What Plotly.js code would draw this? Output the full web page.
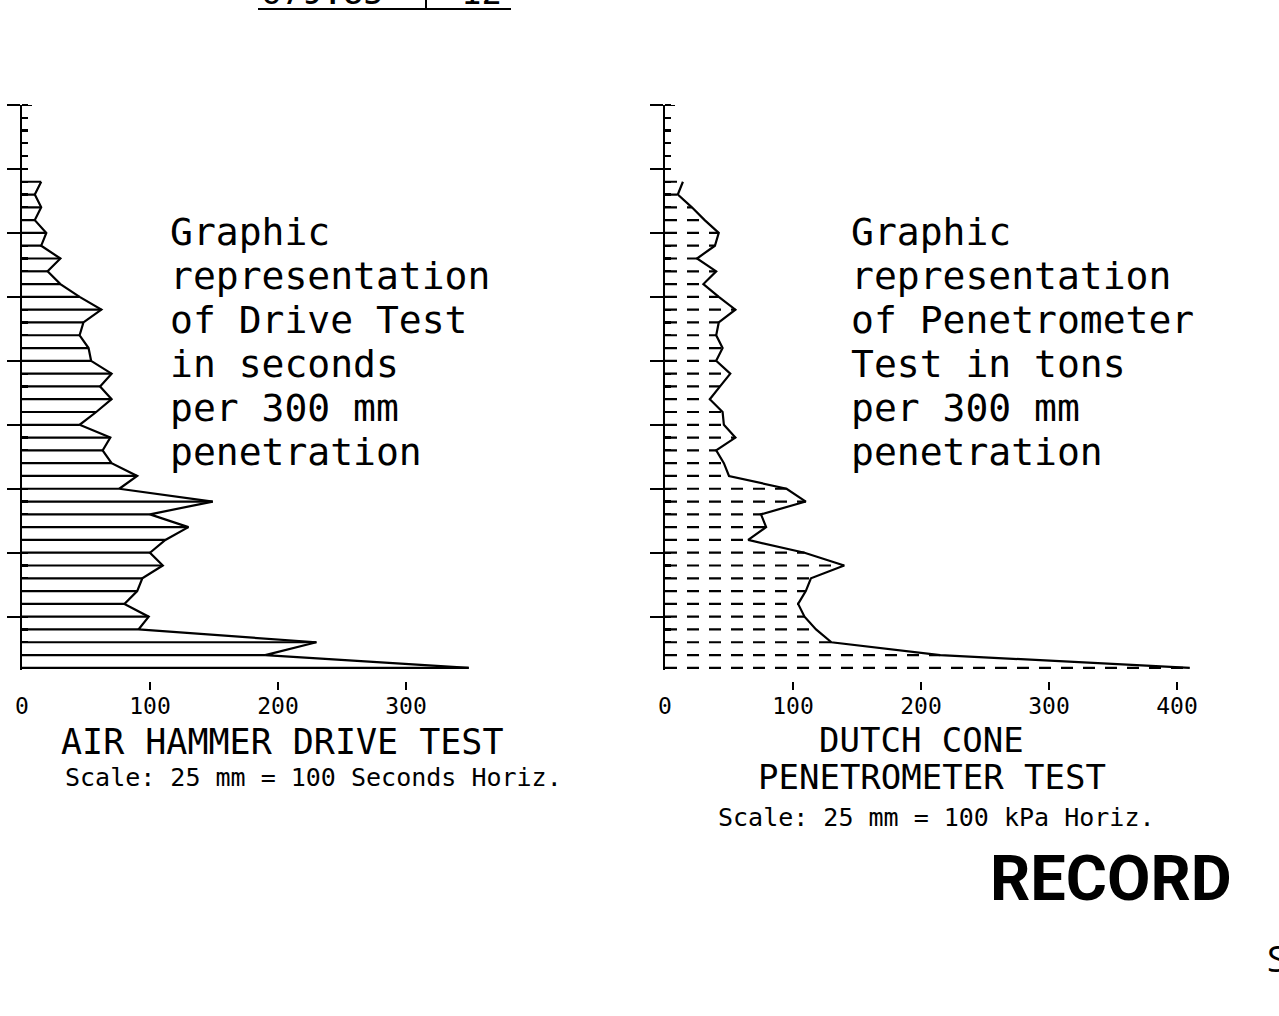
<!DOCTYPE html>
<html><head><meta charset="utf-8">
<script src="https://cdn.plot.ly/plotly-3.0.1.min.js"></script>
<style>html,body{margin:0;padding:0;background:#fff;} #chart{width:1279px;height:1016px;}</style>
</head><body><div id="chart"></div>
<script>
// depth below top of hole (m), one reading per 300 mm
const depths = [1.8, 2.1, 2.4, 2.7, 3.0, 3.3, 3.6, 3.9, 4.2, 4.5, 4.8, 5.1, 5.4, 5.7, 6.0, 6.3, 6.6, 6.9, 7.2, 7.5,
                7.8, 8.1, 8.4, 8.7, 9.0, 9.3, 9.6, 9.9, 10.2, 10.5, 10.8, 11.1, 11.4, 11.7, 12.0, 12.3, 12.6, 12.9, 13.2];
// Air hammer drive test: seconds per 300 mm
const driveSeconds = [15, 10, 15, 10, 19, 15, 30, 20, 30, 45, 62, 48, 45, 52, 54, 70, 61, 70, 58, 45,
                      69, 63, 70, 90, 76, 149, 100, 130, 112, 100, 110, 94, 90, 80, 99, 91, 230, 190, 349];
// Dutch cone penetrometer test
const coneResistance = [14, 10, 21, 31, 42, 39, 25, 40, 30, 42, 55, 42, 40, 45, 40, 51, 43, 35, 45, 46,
                        55, 40, 46, 50, 95, 110, 75, 79, 65, 109, 140, 114, 110, 104, 109, 118, 130, 215, 410];
const driveTicks = [0, 100, 200, 300];
const coneTicks = [0, 100, 200, 300, 400];
const depthBottom = 13.24;

const W = 1279, H = 1016;
const px = x => x / W, py = y => 1 - y / H;
const pxPerUnit = 1.28, pxPerM = 42.64;

function rungs(vals) {
  const x = [], y = [];
  vals.forEach((v, i) => { x.push(0, v, null); y.push(depths[i], depths[i], null); });
  return {x, y};
}
const lr = rungs(driveSeconds), rr = rungs(coneResistance);
const blk = '#000';
const LW = 2.2;

const traces = [
  {x: lr.x, y: lr.y, xaxis: 'x', yaxis: 'y', mode: 'lines', line: {color: blk, width: LW}, hoverinfo: 'skip'},
  {x: driveSeconds, y: depths, xaxis: 'x', yaxis: 'y', mode: 'lines', line: {color: blk, width: LW}},
  {x: rr.x, y: rr.y, xaxis: 'x2', yaxis: 'y2', mode: 'lines', line: {color: blk, width: LW, dash: '12px,10px'}, hoverinfo: 'skip'},
  {x: coneResistance, y: depths, xaxis: 'x2', yaxis: 'y2', mode: 'lines', line: {color: blk, width: LW}}
];

const mono = 'DejaVu Sans Mono';
function xax(l, r, ticks) {
  return {domain: [px(l), px(r)], range: [0, (r - l) / pxPerUnit], anchor: 'free', position: py(690),
    showgrid: false, zeroline: false, showline: false, ticks: 'inside', ticklen: 8, tickwidth: 2, tickcolor: blk,
    tickmode: 'array', tickvals: ticks, tickfont: {family: mono, size: 23, color: blk}, fixedrange: true};
}
function yax(anchor) {
  return {domain: [py(105 + depthBottom * pxPerM), py(105)], range: [depthBottom, 0], anchor: anchor,
    showline: true, linewidth: LW, linecolor: blk, showgrid: false, zeroline: false,
    ticks: 'outside', ticklen: 13, tickwidth: LW, tickcolor: blk, tickmode: 'linear', tick0: 0, dtick: 1.5,
    showticklabels: false, fixedrange: true,
    minor: {ticks: 'inside', tick0: 0, dtick: 0.3, ticklen: 6, tickwidth: LW, tickcolor: blk, showgrid: false}};
}

const leftText = ['Graphic', 'representation', 'of Drive Test', 'in seconds', 'per 300 mm', 'penetration'];
const rightText = ['Graphic', 'representation', 'of Penetrometer', 'Test in tons', 'per 300 mm', 'penetration'];
const lineY = [232, 276, 320, 364, 408, 452];

const ann = [];
function txt(text, x, y, size, xanchor, family) {
  ann.push({text: text, xref: 'paper', yref: 'paper', x: px(x), y: py(y), xanchor: xanchor || 'left', yanchor: 'middle',
    showarrow: false, font: {family: family || mono, size: size, color: blk}});
}
leftText.forEach((t, i) => txt(t, 168, lineY[i], 38));
rightText.forEach((t, i) => txt(t, 849, lineY[i], 38));
txt('AIR HAMMER DRIVE TEST', 282, 742, 35, 'center');
txt('Scale: 25 mm = 100 Seconds Horiz.', 313, 777, 25, 'center');
txt('DUTCH CONE', 921, 740, 34, 'center');
txt('PENETROMETER TEST', 932, 777, 34, 'center');
txt('Scale: 25 mm = 100 kPa Horiz.', 936, 817, 25, 'center');
txt('<b>RECORD</b>', 1111, 878, 63, 'center', 'Roboto');
txt('S', 1265, 957, 37, 'left', 'Open Sans');
ann.push({text: '679.85', xref: 'paper', yref: 'paper', x: px(322), y: py(14), xanchor: 'center', yanchor: 'bottom',
  showarrow: false, font: {family: mono, size: 34, color: blk}});
ann.push({text: '12', xref: 'paper', yref: 'paper', x: px(481), y: py(14), xanchor: 'center', yanchor: 'bottom',
  showarrow: false, font: {family: mono, size: 34, color: blk}});

const shapes = [
  {type: 'line', xref: 'x', yref: 'y', xsizemode: 'pixel', xanchor: 0, x0: -12, x1: 10, y0: 0, y1: 0, line: {color: blk, width: LW}},
  {type: 'line', xref: 'x2', yref: 'y2', xsizemode: 'pixel', xanchor: 0, x0: -12, x1: 10, y0: 0, y1: 0, line: {color: blk, width: LW}},
  {type: 'line', xref: 'paper', yref: 'paper', x0: px(258), x1: px(511), y0: py(9), y1: py(9), line: {color: blk, width: 2}},
  {type: 'line', xref: 'paper', yref: 'paper', x0: px(426), x1: px(426), y0: py(0), y1: py(9), line: {color: blk, width: 2}}
];

const layout = {
  width: W, height: H, margin: {l: 0, r: 0, t: 0, b: 0, pad: 0},
  paper_bgcolor: '#fff', plot_bgcolor: '#fff', showlegend: false,
  xaxis: xax(22, 480, driveTicks), yaxis: yax('x'),
  xaxis2: xax(665, 1210, coneTicks), yaxis2: yax('x2'),
  annotations: ann, shapes: shapes
};
Plotly.newPlot('chart', traces, layout, {displayModeBar: false, staticPlot: true});
</script>
</body></html>
